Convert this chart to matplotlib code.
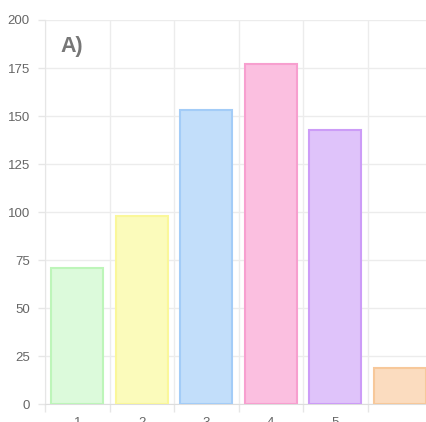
import matplotlib.pyplot as plt

# データ
labels = ["1", "2", "3", "4", "5", ""]
values = [71, 98, 153, 177, 143, 19]
fill_colors = ["#dcfadb", "#fbfbbb", "#c2defa", "#fbbfe0", "#dfc3fa", "#fbdcbf"]
edge_colors = ["#bdf5b9", "#faf79a", "#a3ccf7", "#f79fcf", "#cc9cf7", "#f7c89a"]
y_ticks = [0, 25, 50, 75, 100, 125, 150, 175, 200]

plt.rcParams['font.family'] = ['Liberation Sans', 'DejaVu Sans']

fig = plt.figure(figsize=(4.26, 4.22), dpi=100)
# 右端は画像の外にはみ出す（元画像がクリップされているため）
ax = fig.add_axes([45 / 426, 17.7 / 422, 387 / 426, 384.3 / 422])

x = list(range(len(values)))
ax.bar(x, values, width=0.8, color=fill_colors, edgecolor=edge_colors,
       linewidth=1.5, zorder=3)

ax.set_xlim(-0.5, len(values) - 0.5)
ax.set_ylim(0, 200)

# y軸
ax.set_yticks(y_ticks)
ax.tick_params(axis='y', length=5, width=1, color='#e6e6e6', pad=6,
               labelsize=9.5, labelcolor='#666666')
ax.yaxis.grid(True, color='#ececec', linewidth=1, zorder=0)

# x軸: ラベルは中央、グリッドと目盛りは境界
ax.set_xticks(x)
ax.set_xticklabels(labels)
ax.set_xticks([i - 0.5 for i in range(len(values) + 1)], minor=True)
ax.tick_params(axis='x', which='major', length=0, pad=9,
               labelsize=9.5, labelcolor='#666666')
ax.tick_params(axis='x', which='minor', length=6, width=1, color='#e6e6e6')
ax.xaxis.grid(True, which='minor', color='#ececec', linewidth=1, zorder=0)

for side in ['top', 'right']:
    ax.spines[side].set_visible(False)
ax.spines['left'].set_color('#e6e6e6')
ax.spines['bottom'].set_color('#dddddd')

fig.text(60 / 426, 1 - 52 / 422, "A)", fontsize=15.5, fontweight='bold',
         color='#777777')

plt.savefig("out.png", dpi=100)
